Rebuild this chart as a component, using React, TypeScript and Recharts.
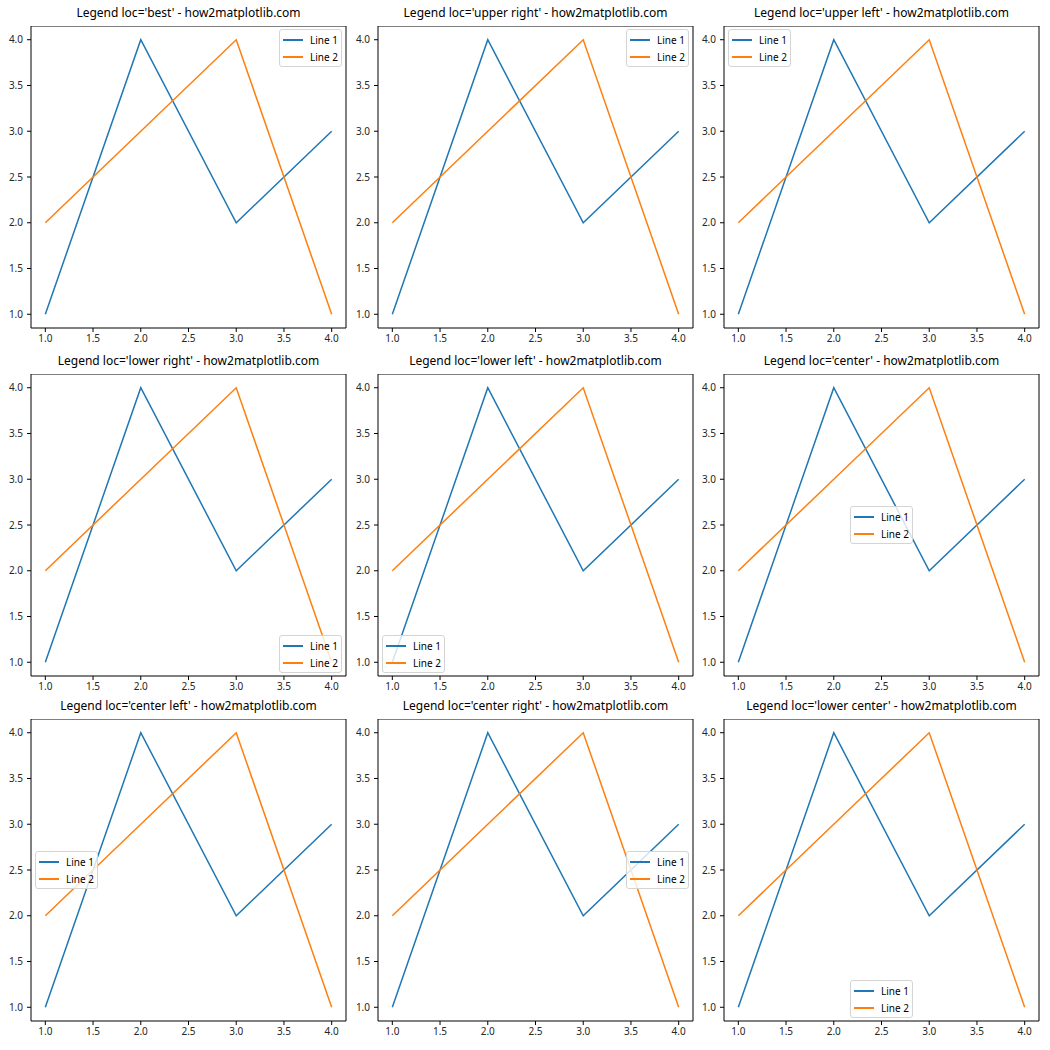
import { LineChart, Line, XAxis, YAxis, ReferenceArea, Legend } from "recharts";

const xValues = [1, 2, 3, 4];
const line1Values = [1, 4, 2, 3];
const line2Values = [2, 3, 4, 1];
const seriesNames = ["Line 1", "Line 2"];
const seriesColors = ["#1f77b4", "#ff7f0e"];
const tickValues = [1, 1.5, 2, 2.5, 3, 3.5, 4];
const legendLocs = [
  "best",
  "upper right",
  "upper left",
  "lower right",
  "lower left",
  "center",
  "center left",
  "center right",
  "lower center",
];

const FONT = "'Noto Sans', 'DejaVu Sans', sans-serif";
const COL_LEFT = [31, 378, 724];
const ROW_TOP = [26, 374, 719];
const PLOT_W = 315;
const PLOT_H = 302;
const Y_AXIS_W = 31;
const X_AXIS_H = 25;
const LEG_W = 63;
const LEG_H = 38;
const PAD_X = 4;
const PAD_Y = 3;
const DOMAIN: [number, number] = [0.85, 4.15];

const data = xValues.map((x, i) => ({
  x,
  line1: line1Values[i],
  line2: line2Values[i],
}));

// where the legend box sits inside the chart for each loc string
const legendPosition = (loc: string) => {
  const l = loc === "best" ? "upper right" : loc;
  let left = Y_AXIS_W + (PLOT_W - LEG_W) / 2;
  let top = (PLOT_H - LEG_H) / 2;
  if (l.includes("right")) left = Y_AXIS_W + PLOT_W - PAD_X - LEG_W;
  if (l.includes("left")) left = Y_AXIS_W + PAD_X;
  if (l.includes("upper")) top = PAD_Y;
  if (l.includes("lower")) top = PLOT_H - PAD_Y - LEG_H;
  return { left, top };
};

const LegendBox = ({ payload }: any) => (
  <div
    style={{
      width: LEG_W,
      height: LEG_H,
      boxSizing: "border-box",
      background: "rgba(255,255,255,0.8)",
      border: "1px solid #d4d4d4",
      borderRadius: 3,
      position: "relative",
      fontFamily: FONT,
      fontSize: 10,
      color: "#000",
    }}
  >
    {(payload || []).map((entry: any, i: number) => (
      <div
        key={i}
        style={{
          position: "absolute",
          left: 3,
          top: 3 + i * 17,
          height: 14,
          display: "flex",
          alignItems: "center",
        }}
      >
        <span
          style={{
            display: "inline-block",
            width: 20,
            height: 1.5,
            background: entry.color,
            marginRight: 7,
          }}
        />
        <span style={{ lineHeight: "14px" }}>{entry.value}</span>
      </div>
    ))}
  </div>
);

const tickStyle = { fontSize: 10, fill: "#262626", fontFamily: FONT };

const Panel = ({ loc, col, row }: { loc: string; col: number; row: number }) => {
  const pos = legendPosition(loc);
  return (
    <>
      <div
        style={{
          position: "absolute",
          left: COL_LEFT[col],
          top: ROW_TOP[row] - 20,
          width: PLOT_W,
          textAlign: "center",
          fontFamily: FONT,
          fontSize: 12,
          lineHeight: "14px",
          color: "#000",
          whiteSpace: "nowrap",
        }}
      >
        Legend loc='{loc}' - how2matplotlib.com
      </div>
      <div
        style={{
          position: "absolute",
          left: COL_LEFT[col] - Y_AXIS_W,
          top: ROW_TOP[row],
        }}
      >
        <LineChart
          width={Y_AXIS_W + PLOT_W + 4}
          height={PLOT_H + X_AXIS_H}
          data={data}
          margin={{ top: 0, right: 4, bottom: 0, left: 0 }}
        >
          <XAxis
            dataKey="x"
            type="number"
            domain={DOMAIN}
            ticks={tickValues}
            tickFormatter={(v: number) => v.toFixed(1)}
            tick={tickStyle}
            tickSize={4}
            tickMargin={3}
            tickLine={{ stroke: "#000" }}
            axisLine={false}
            height={X_AXIS_H}
            interval={0}
          />
          <YAxis
            type="number"
            domain={DOMAIN}
            ticks={tickValues}
            tickFormatter={(v: number) => v.toFixed(1)}
            tick={tickStyle}
            tickSize={4}
            tickMargin={4}
            tickLine={{ stroke: "#000" }}
            axisLine={false}
            width={Y_AXIS_W}
            interval={0}
          />
          <Line
            dataKey="line1"
            name={seriesNames[0]}
            stroke={seriesColors[0]}
            strokeWidth={1.5}
            dot={false}
            isAnimationActive={false}
          />
          <Line
            dataKey="line2"
            name={seriesNames[1]}
            stroke={seriesColors[1]}
            strokeWidth={1.5}
            dot={false}
            isAnimationActive={false}
          />
          <ReferenceArea
            x1={DOMAIN[0]}
            x2={DOMAIN[1]}
            y1={DOMAIN[0]}
            y2={DOMAIN[1]}
            fill="none"
            stroke="#000"
            strokeWidth={1}
          />
          <Legend
            layout="vertical"
            align="center"
            verticalAlign="middle"
            content={<LegendBox />}
            wrapperStyle={{
              left: pos.left,
              top: pos.top,
              right: "auto",
              bottom: "auto",
              width: LEG_W,
              height: LEG_H,
            }}
          />
        </LineChart>
      </div>
    </>
  );
};

export default function App() {
  return (
    <div
      style={{
        position: "absolute",
        left: 0,
        top: 0,
        width: 1050,
        height: 1050,
        background: "#fff",
      }}
    >
      {legendLocs.map((loc, i) => (
        <Panel key={loc} loc={loc} col={i % 3} row={Math.floor(i / 3)} />
      ))}
    </div>
  );
}
